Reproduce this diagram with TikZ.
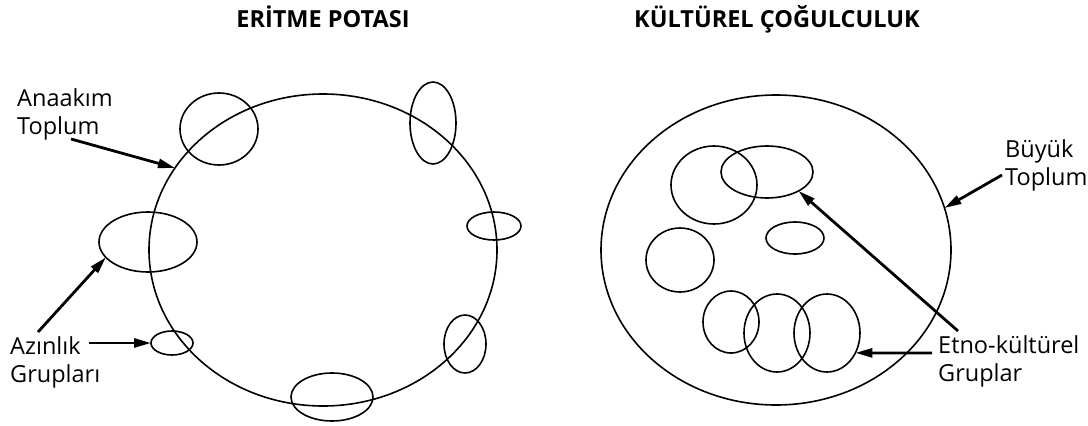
\documentclass[tikz,border=0pt]{standalone}
\usepackage{fontspec}
\setmainfont{Open Sans}
\usetikzlibrary{shapes.geometric,arrows.meta}
\tikzset{
  ell/.style={draw=black,line width=1.6pt,shape=ellipse,inner sep=0pt,outer sep=0pt},
  arr/.style={draw=black,line width=2.8pt,-{Triangle[length=17pt,width=9pt]}},
  lbl/.style={align=left,anchor=north west,inner sep=0pt,font=\fontsize{23.5}{28}\selectfont},
  ttl/.style={anchor=base,inner sep=0pt,font=\fontsize{23.5}{27}\selectfont\bfseries}
}
\begin{document}
\begin{tikzpicture}[x=1pt,y=-1pt]
\useasboundingbox[fill=white] (0,0) rectangle (1088,426);
% titles
\node[ttl] (t1) at (323,27) {ERİTME POTASI};
\node[ttl] (t2) at (777,27) {KÜLTÜREL ÇOĞULCULUK};
% left: melting pot
\node[ell,minimum width=348pt,minimum height=312pt] (bigL) at (323,250) {};
\node[ell,minimum width=78pt,minimum height=72pt] (e1) at (219,129) {};
\node[ell,minimum width=46pt,minimum height=82pt] (e2) at (433,123) {};
\node[ell,minimum width=54pt,minimum height=28pt] (e3) at (494,226) {};
\node[ell,minimum width=98pt,minimum height=60pt] (lg) at (148,242) {};
\node[ell,minimum width=42pt,minimum height=24pt] (sg) at (172,343) {};
\node[ell,minimum width=42pt,minimum height=58pt] (e6) at (465,344) {};
\node[ell,minimum width=82pt,minimum height=48pt] (e7) at (332,397) {};
% left labels
\node[lbl] (anaakim) at (17,88.1) {Anaakım\\Toplum};
\node[lbl] (azinlik) at (10,336.1) {Azınlık\\Grupları};
\coordinate (a1) at (71,139);
\coordinate (a2) at (38,332);
\coordinate (a3) at (89,343);
\draw[arr] (a1) -- (bigL.151.8);
\draw[arr] (a2) -- (lg.200);
\draw[arr] (a3) -- (sg.west);
% right: cultural pluralism
\node[ell,minimum width=350pt,minimum height=310pt] (bigR) at (776,250) {};
\node[ell,minimum width=86pt,minimum height=78pt] (eE) at (714,185) {};
\node[ell,minimum width=92pt,minimum height=52pt] (eF) at (767,172) {};
\node[ell,minimum width=68pt,minimum height=64pt] (eD) at (680,260) {};
\node[ell,minimum width=58pt,minimum height=32pt] (eG) at (795,238) {};
\node[ell,minimum width=56pt,minimum height=62pt] (eA) at (731,322) {};
\node[ell,minimum width=66pt,minimum height=78pt] (eB) at (777,333) {};
\node[ell,minimum width=66pt,minimum height=78pt] (eC) at (827,333) {};
% right labels
\node[lbl] (buyuk) at (1005,139.1) {Büyük\\Toplum};
\node[lbl] (etno) at (938,335.1) {Etno-kültürel\\Gruplar};
\coordinate (b1) at (1002,175);
\coordinate (b2) at (958,331);
\coordinate (b3) at (932,353);
\draw[arr] (b1) -- (bigR.14);
\draw[arr] (b2) -- (eF.329);
\draw[arr] (b3) -- (eC.325);
\end{tikzpicture}
\end{document}
